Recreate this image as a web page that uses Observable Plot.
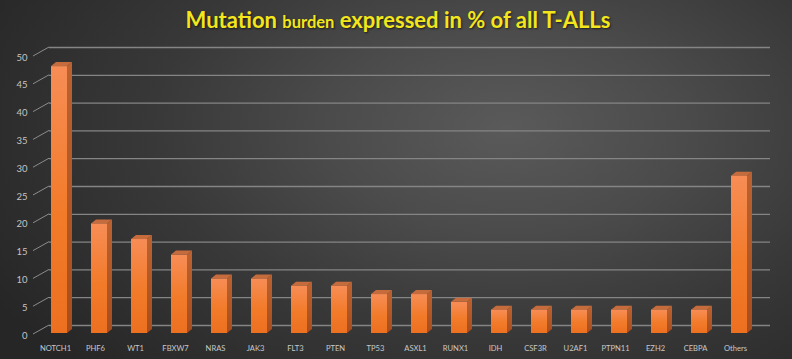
<!DOCTYPE html>
<html>
<head>
<meta charset="utf-8">
<script src="https://cdn.jsdelivr.net/npm/d3@7"></script>
<script src="https://cdn.jsdelivr.net/npm/@observablehq/plot@0.6"></script>
<style>
  html, body { margin: 0; padding: 0; background: #2b2b2b; }
  #wrap {
    position: relative; width: 792px; height: 359px; overflow: hidden;
    background: radial-gradient(ellipse 75% 95% at 64% 36%, #5a5a5a 0%, #4b4b4b 30%, #383838 60%, #262626 100%);
    font-family: Lato, "Open Sans", sans-serif;
  }
  #title {
    height: 38px; line-height: 39px; text-align: center;
    color: #f3e61c; font-weight: bold; font-size: 22px;
    text-shadow: 1px 1px 2px rgba(0,0,0,0.6);
    padding-left: 4px;
  }
  #title .small { font-size: 16.5px; }
  #chart svg { display: block; overflow: visible; }
</style>
</head>
<body>
<svg width="0" height="0" style="position:absolute">
  <defs>
    <linearGradient id="frontGrad" x1="0" y1="0" x2="0" y2="1">
      <stop offset="0%" stop-color="#f78d56"/>
      <stop offset="55%" stop-color="#f27b2a"/>
      <stop offset="100%" stop-color="#ec7020"/>
    </linearGradient>
    <linearGradient id="sideGrad" x1="0" y1="0" x2="0" y2="1">
      <stop offset="0%" stop-color="#bb6230"/>
      <stop offset="100%" stop-color="#a84e1e"/>
    </linearGradient>
  </defs>
</svg>
<div id="wrap">
  <div id="title">Mutation <span class="small">burden</span> expressed in % of all T-ALLs</div>
  <div id="chart"></div>
</div>
<script>
const genes = ["NOTCH1","PHF6","WT1","FBXW7","NRAS","JAK3","FLT3","PTEN","TP53","ASXL1","RUNX1","IDH","CSF3R","U2AF1","PTPN11","EZH2","CEBPA","Others"];
const values = [48, 19.7, 16.9, 14.1, 9.8, 9.8, 8.5, 8.5, 7, 7, 5.6, 4.2, 4.2, 4.2, 4.2, 4.2, 4.2, 28.3];
const yTicks = [0, 5, 10, 15, 20, 25, 30, 35, 40, 45, 50];

const data = genes.map((g, i) => ({gene: g, value: values[i]}));

const DEPTH_X = 5, DEPTH_Y = 4;       // bar depth (px)
const BACK_X = 15, BACK_Y = 8;        // back wall offset (px)
const INSET_L = 16, INSET_R = 8;

function facesRender(index, scales, vals, dims) {
  const bw = scales.x.bandwidth();
  const g = d3.create("svg:g");
  for (const i of index) {
    const xL = vals.x[i] + INSET_L;
    const xR = vals.x[i] + bw - INSET_R;
    const yT = Math.min(vals.y1[i], vals.y2[i]);
    const yB = Math.max(vals.y1[i], vals.y2[i]);
    g.append("polygon")
      .attr("points", [[xR, yT], [xR + DEPTH_X, yT - DEPTH_Y], [xR + DEPTH_X, yB - DEPTH_Y], [xR, yB]].join(" "))
      .attr("fill", "url(#sideGrad)");
    g.append("polygon")
      .attr("points", [[xL, yT], [xL + DEPTH_X, yT - DEPTH_Y], [xR + DEPTH_X, yT - DEPTH_Y], [xR, yT]].join(" "))
      .attr("fill", "#c56b3c");
  }
  return g.node();
}

function connectorRender(index, scales, vals, dims) {
  const g = d3.create("svg:g");
  for (const i of index) {
    const y = vals.y[i];
    g.append("line")
      .attr("x1", dims.marginLeft - 1).attr("y1", y + 1)
      .attr("x2", dims.marginLeft + BACK_X).attr("y2", y - BACK_Y)
      .attr("stroke", "#8c8c8c").attr("stroke-width", 1);
  }
  return g.node();
}

const chart = Plot.plot({
  width: 792,
  height: 321,
  marginLeft: 34,
  marginRight: 37,
  marginTop: 17,
  marginBottom: 26,
  style: {background: "transparent", fontFamily: "Lato, 'Open Sans', sans-serif", overflow: "visible"},
  x: {type: "band", domain: genes, padding: 0, axis: null},
  y: {domain: [0, 50], axis: null},
  marks: [
    Plot.ruleY(yTicks, {y: d => d, dx: BACK_X, dy: -BACK_Y, stroke: "#858585", strokeWidth: 1.3}),
    Plot.ruleY(yTicks, {y: d => d, render: connectorRender}),
    Plot.text(yTicks, {y: d => d, text: d => String(d), frameAnchor: "left", textAnchor: "end", dx: -7, dy: 2, fill: "#c4c4c4", fontSize: 9.5}),
    Plot.barY(data, {x: "gene", y: "value", render: facesRender}),
    Plot.barY(data, {x: "gene", y: "value", insetLeft: INSET_L, insetRight: INSET_R, fill: "url(#frontGrad)"}),
    Plot.text(data, {x: "gene", text: "gene", frameAnchor: "bottom", dy: 17, fill: "#c8c8c8", fontSize: 7.6})
  ]
});
document.getElementById("chart").appendChild(chart);
</script>
</body>
</html>
